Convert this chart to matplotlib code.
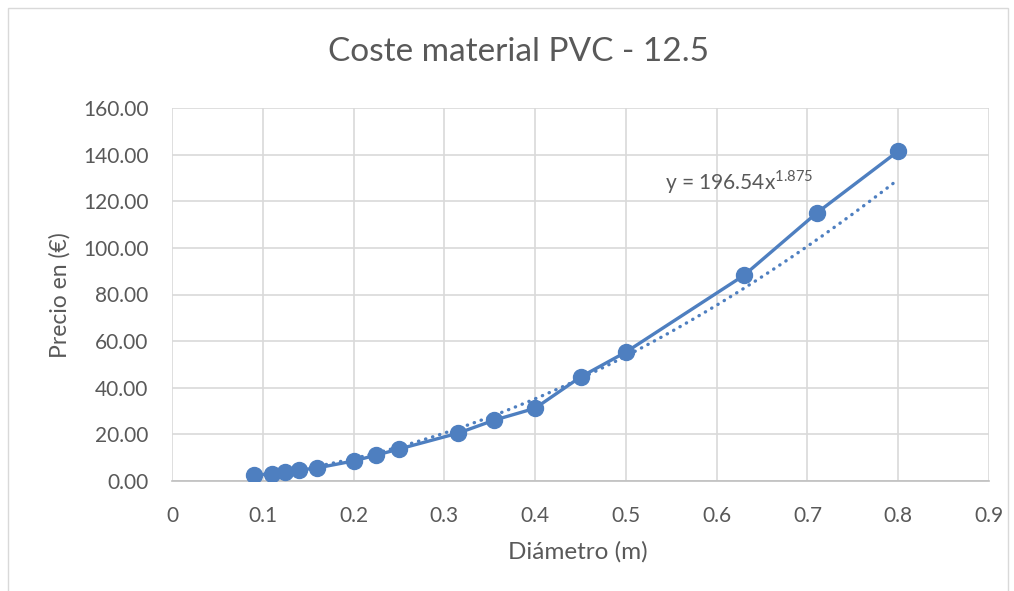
import numpy as np
import matplotlib
matplotlib.use("Agg")
import matplotlib.pyplot as plt
from matplotlib.patches import Rectangle

plt.rcParams['font.family'] = ['Lato', 'DejaVu Sans']
plt.rcParams['mathtext.fontset'] = 'custom'
plt.rcParams['mathtext.rm'] = 'Lato'

# Pipe diameter (m) and material cost (EUR)
diametro = [0.09, 0.11, 0.125, 0.14, 0.16, 0.2, 0.225, 0.25, 0.315, 0.355,
            0.4, 0.45, 0.5, 0.63, 0.71, 0.8]
precio = [2.6, 3.0, 3.9, 4.7, 5.6, 8.6, 11.1, 13.7, 20.5, 26.1,
          31.2, 44.6, 55.3, 88.2, 114.9, 141.5]

# Power-law trendline coefficients
coef_a = 196.54
coef_b = 1.875

x_ticks = [0, 0.1, 0.2, 0.3, 0.4, 0.5, 0.6, 0.7, 0.8, 0.9]
y_ticks = [0, 20, 40, 60, 80, 100, 120, 140, 160]

blue = '#4E7FC0'
text_gray = '#595959'
grid_gray = '#D9D9D9'

W, H = 1014, 591
fig = plt.figure(figsize=(W / 100, H / 100), dpi=100)
fig.patches.append(Rectangle((8 / W, -0.01), 1000 / W, 1 - 8 / H + 0.01,
                             transform=fig.transFigure, fill=False,
                             edgecolor='#D9D9D9', linewidth=1.0))

ax = fig.add_axes([172 / W, 1 - 481 / H, (989 - 172) / W, (481 - 108) / H])

xt = np.linspace(min(diametro), max(diametro), 200)
ax.plot(xt, coef_a * xt ** coef_b, color=blue, linewidth=2.4,
        linestyle=(0, (0.1, 2.1)), dash_capstyle='round', zorder=3)
ax.plot(diametro, precio, color=blue, linewidth=2.4, marker='o',
        markersize=11.5, zorder=4)

ax.set_xlim(0, 0.9)
ax.set_ylim(0, 160)
ax.set_xticks(x_ticks)
ax.set_xticklabels([f'{v:g}' for v in x_ticks])
ax.set_yticks(y_ticks)
ax.set_yticklabels([f'{v:.2f}' for v in y_ticks])

ax.grid(True, color=grid_gray, linewidth=1.2)
ax.set_axisbelow(True)
for side in ['top', 'right', 'left']:
    ax.spines[side].set_visible(False)
ax.spines['bottom'].set_color('#BFBFBF')
ax.spines['bottom'].set_linewidth(1.2)
ax.tick_params(length=0, labelsize=15, labelcolor=text_gray)
ax.tick_params(axis='y', pad=17)
ax.tick_params(axis='x', pad=18)

fig.text(578 / W, 1 - 552 / H, 'Diámetro (m)', fontsize=17.5,
         color=text_gray, ha='center', va='center')
fig.text(60 / W, 1 - 295 / H, 'Precio en (€)', fontsize=16.5,
         color=text_gray, ha='center', va='center', rotation=90)
fig.text(519 / W, 1 - 52 / H, 'Coste material PVC - 12.5', fontsize=24,
         color=text_gray, ha='center', va='center')

ax.text(0.543, 124.9, r'y = 196.54x$^{\mathrm{1.875}}$', fontsize=15,
        color=text_gray, ha='left', va='baseline')

fig.savefig('out.png', dpi=100)
